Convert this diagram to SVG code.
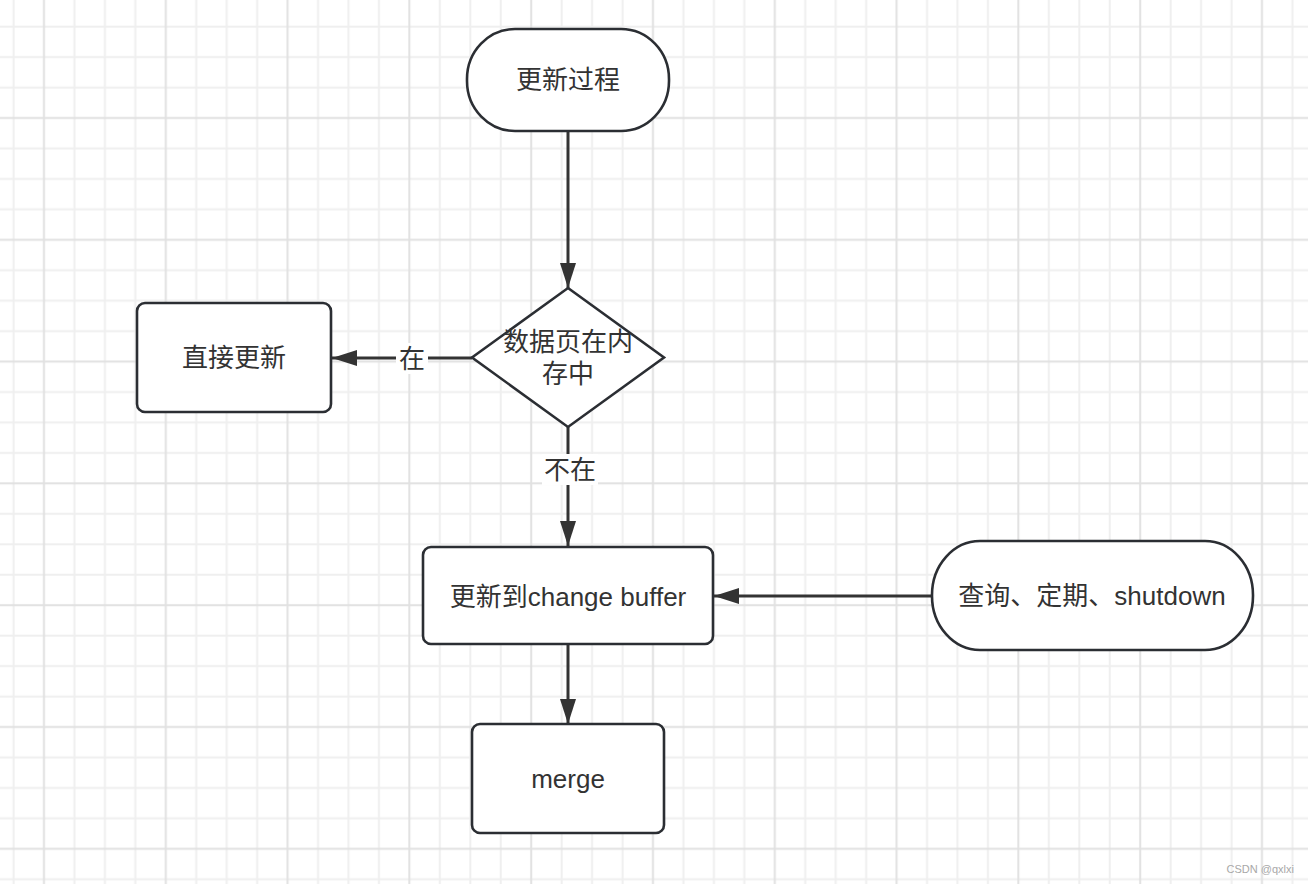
<svg xmlns="http://www.w3.org/2000/svg" width="1308" height="884" viewBox="0 0 1308 884">
<style>
.node{fill:#ffffff;stroke:#2b2e33;stroke-width:2.6}
.lbl{font-family:"Liberation Sans","Noto Sans CJK SC",sans-serif;font-size:26px;fill:#333333;text-anchor:middle;dominant-baseline:central}
.edge{stroke:#333333;stroke-width:3;fill:none}
.lblbg{fill:#ffffff}
</style>
<defs>
<pattern id="grid" patternUnits="userSpaceOnUse" x="28.775" y="102.775" width="121.8" height="121.8">
<g stroke="#efefef" stroke-width="2">
<line x1="45.675" y1="0" x2="45.675" y2="121.8"/>
<line x1="76.125" y1="0" x2="76.125" y2="121.8"/>
<line x1="106.575" y1="0" x2="106.575" y2="121.8"/>
<line x1="0" y1="45.675" x2="121.8" y2="45.675"/>
<line x1="0" y1="76.125" x2="121.8" y2="76.125"/>
<line x1="0" y1="106.575" x2="121.8" y2="106.575"/>
</g>
<g stroke="#e1e1e1" stroke-width="2">
<line x1="15.225" y1="0" x2="15.225" y2="121.8"/>
<line x1="0" y1="15.225" x2="121.8" y2="15.225"/>
</g>
</pattern>
<marker id="arrow" markerUnits="userSpaceOnUse" markerWidth="26" markerHeight="18" refX="25" refY="8" orient="auto">
<path d="M0,0 L25,8 L0,16 z" fill="#333333"/>
</marker>
</defs>
<rect x="0" y="0" width="1308" height="884" fill="#ffffff"/>
<rect x="0" y="0" width="1308" height="884" fill="url(#grid)"/>

<g id="connectors">
<line class="edge" x1="568" y1="131" x2="568" y2="288" marker-end="url(#arrow)"/>
<line class="edge" x1="472" y1="358" x2="332" y2="358" marker-end="url(#arrow)"/>
<line class="edge" x1="568" y1="427" x2="568" y2="546" marker-end="url(#arrow)"/>
<line class="edge" x1="932" y1="596" x2="714" y2="596" marker-end="url(#arrow)"/>
<line class="edge" x1="568" y1="644" x2="568" y2="724" marker-end="url(#arrow)"/>
<rect class="lblbg" x="396" y="343" width="32" height="31"/>
<text class="lbl" x="412" y="359">在</text>
<rect class="lblbg" x="542" y="454" width="56" height="31"/>
<text class="lbl" x="570" y="470">不在</text>
</g>

<g id="start">
<rect class="node" x="467" y="29" width="202" height="102" rx="48" ry="50"/>
<text class="lbl" x="568" y="80">更新过程</text>
</g>

<g id="decision">
<polygon class="node" points="568,288 664,357.5 568,427 472,357.5"/>
<text class="lbl" x="568" y="342">数据页在内</text>
<text class="lbl" x="568" y="374">存中</text>
</g>

<g id="direct-update">
<rect class="node" x="137" y="303" width="194" height="109" rx="8"/>
<text class="lbl" x="234" y="358">直接更新</text>
</g>

<g id="change-buffer">
<rect class="node" x="423" y="547" width="290" height="97" rx="8"/>
<text class="lbl" x="568" y="597">更新到change buffer</text>
</g>

<g id="trigger">
<rect class="node" x="932" y="541" width="321" height="109" rx="48" ry="54"/>
<text class="lbl" x="1092" y="596">查询、定期、shutdown</text>
</g>

<g id="merge">
<rect class="node" x="472" y="724" width="192" height="109" rx="8"/>
<text class="lbl" x="568" y="779">merge</text>
</g>

<text x="1294" y="873" font-family="Liberation Sans, sans-serif" font-size="11" fill="#a8a8a8" text-anchor="end">CSDN @qxlxi</text>
</svg>
